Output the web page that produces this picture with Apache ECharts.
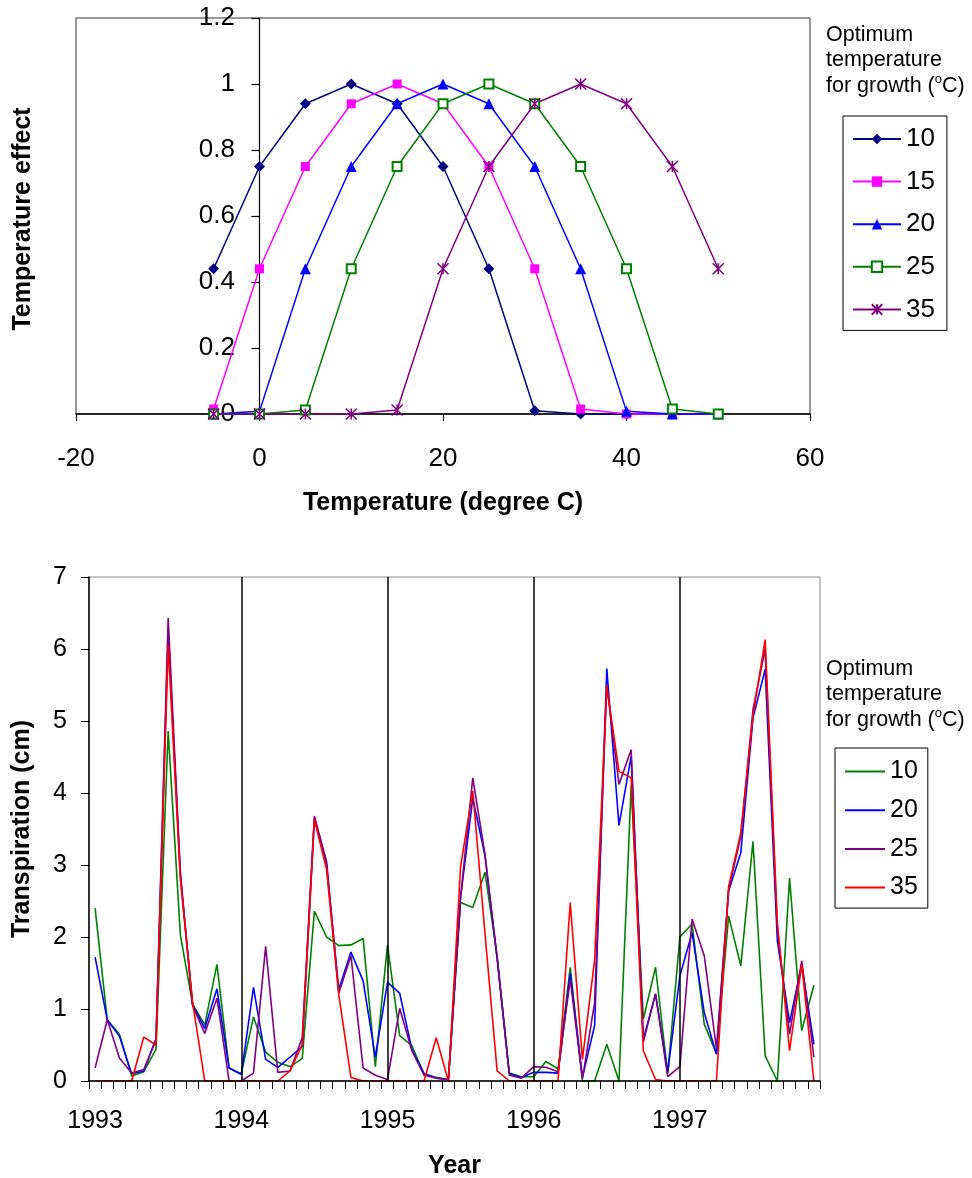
<!DOCTYPE html>
<html><head><meta charset="utf-8">
<script src="https://cdn.jsdelivr.net/npm/echarts@6/dist/echarts.min.js"></script>
<style>
html,body{margin:0;padding:0;background:#fff;}
#c1{position:absolute;left:0;top:0;width:972px;height:540px;}
#c2{position:absolute;left:0;top:540px;width:972px;height:638px;}
</style>
</head><body>
<div id="c1"></div><div id="c2"></div>
<script>
// ---------- Top chart data ----------
const tempX = [-5, 0, 5, 10, 15, 20, 25, 30, 35, 40, 45, 50];
const eff10 = [0.44, 0.75, 0.94, 1, 0.94, 0.75, 0.44, 0.01, 0, 0, 0, 0];
const eff15 = [0.015, 0.44, 0.75, 0.94, 1, 0.94, 0.75, 0.44, 0.015, 0, 0, 0];
const eff20 = [0, 0.008, 0.44, 0.75, 0.94, 1, 0.94, 0.75, 0.44, 0.008, 0, 0];
const eff25 = [0, 0, 0.012, 0.44, 0.75, 0.94, 1, 0.94, 0.75, 0.44, 0.015, 0];
const eff35 = [0, 0, 0, 0, 0.012, 0.44, 0.75, 0.94, 1, 0.94, 0.75, 0.44];
const topNames = ['10', '15', '20', '25', '35'];

// ---------- Bottom chart data ----------
const yearLabels = ['1993', '1994', '1995', '1996', '1997'];
const monthNums = [1,2,3,4,5,6,7,8,9,10,11,12];
const tr10 = [
  2.4, 0.85, 0.65, 0.07, 0.13, 0.44, 4.86, 2.03, 1.07, 0.78, 1.62, 0.18,
  0.1, 0.89, 0.4, 0.26, 0.2, 0.31, 2.36, 2.0, 1.88, 1.89, 1.98, 0.2,
  1.89, 0.63, 0.49, 0.1, 0.05, 0.02, 2.48, 2.41, 2.9, 1.74, 0.11, 0.06,
  0.06, 0.27, 0.17, 1.58, 0, 0, 0.51, 0, 4.1, 0.86, 1.58, 0.1,
  2.0, 2.18, 0.79, 0.38, 2.29, 1.6, 3.33, 0.35, 0, 2.82, 0.7, 1.33
];
const tr20 = [
  1.72, 0.85, 0.62, 0.1, 0.14, 0.59, 6.25, 2.85, 1.06, 0.73, 1.28, 0.18,
  0.09, 1.3, 0.3, 0.19, 0.33, 0.48, 3.65, 3.0, 1.27, 1.79, 1.39, 0.33,
  1.37, 1.22, 0.44, 0.1, 0.04, 0.02, 2.55, 3.93, 3.13, 1.7, 0.1, 0.05,
  0.12, 0.12, 0.11, 1.5, 0.05, 0.77, 5.73, 3.55, 4.51, 0.58, 1.21, 0.12,
  1.46, 2.06, 0.95, 0.37, 2.64, 3.17, 5.04, 5.72, 1.95, 0.81, 1.62, 0.51
];
const tr25 = [
  0.18, 0.85, 0.32, 0.11, 0.16, 0.57, 6.43, 2.9, 1.05, 0.66, 1.15, 0,
  0, 0.11, 1.87, 0.12, 0.14, 0.6, 3.68, 3.05, 1.22, 1.74, 0.18, 0.08,
  0.02, 1.01, 0.42, 0.08, 0.04, 0.02, 2.55, 4.21, 3.15, 1.71, 0.08, 0.04,
  0.2, 0.19, 0.13, 1.41, 0.03, 1.09, 5.5, 4.12, 4.6, 0.54, 1.21, 0.06,
  0.2, 2.25, 1.74, 0.45, 2.66, 3.4, 5.16, 6.0, 2.1, 0.65, 1.67, 0.33
];
const tr35 = [
  0, 0, 0, 0, 0.61, 0.5, 6.05, 2.8, 1.1, 0, 0, 0,
  0, 0, 0, 0, 0.14, 0.5, 3.63, 2.94, 1.2, 0.05, 0, 0,
  0, 0, 0, 0, 0.6, 0, 2.98, 4.03, 2.05, 0.14, 0, 0,
  0, 0, 0, 2.48, 0.3, 1.68, 5.48, 4.3, 4.21, 0.42, 0.02, 0,
  0, 0, 0, 0, 2.7, 3.45, 5.07, 6.13, 2.2, 0.42, 1.62, 0
];
const bottomNames = ['10', '20', '25', '35'];

const FONT = '"Liberation Sans", Arial, Helvetica, sans-serif';
const BLACK = '#000';

// ---------- Top chart ----------
const starPath = 'path://M0,0L10,10M10,0L0,10M5,0L5,10';
const topSpecs = [
  { name: topNames[0], vals: eff10, color: '#000080', symbol: 'diamond', size: 11 },
  { name: topNames[1], vals: eff15, color: '#FF00FF', symbol: 'rect', size: 9 },
  { name: topNames[2], vals: eff20, color: '#0000FF', symbol: 'triangle', size: 11 },
  { name: topNames[3], vals: eff25, color: '#008000', symbol: 'emptyRect', size: 9 },
  { name: topNames[4], vals: eff35, color: '#800080', symbol: starPath, size: 11 }
];

const titleStyle = (fs) => ({
  fontSize: fs, fontWeight: 'normal', color: BLACK, fontFamily: FONT, lineHeight: 25.7,
  rich: { s: { fontSize: 13, lineHeight: 14, verticalAlign: 'top', color: BLACK, fontFamily: FONT } }
});

const c1 = echarts.init(document.getElementById('c1'), null, { renderer: 'canvas' });
c1.setOption({
  animation: false,
  textStyle: { fontFamily: FONT },
  title: {
    text: 'Optimum\ntemperature\nfor growth ({s|o}C)',
    left: 826, top: 22, padding: 0,
    textStyle: titleStyle(21.5)
  },
  graphic: [{
    type: 'text', x: 23, y: 219, rotation: Math.PI / 2, silent: true,
    style: {
      text: 'Temperature effect', fill: BLACK,
      font: 'bold 25px "Liberation Sans", Arial, sans-serif',
      align: 'center', verticalAlign: 'middle'
    }
  }],
  legend: {
    orient: 'vertical', left: 843, top: 116,
    data: topNames,
    itemWidth: 48, itemHeight: 13, itemGap: 16.6,
    padding: [10, 12, 8, 9],
    borderColor: BLACK, borderWidth: 1,
    selectedMode: false,
    textStyle: { fontSize: 26, color: BLACK, fontFamily: FONT }
  },
  grid: { left: 76, right: 162, top: 18, bottom: 126, show: true, borderColor: '#333', borderWidth: 1,
          containLabel: false, outerBoundsMode: 'none' },
  xAxis: {
    type: 'value', min: -20, max: 60, interval: 20,
    name: 'Temperature (degree C)', nameLocation: 'middle', nameGap: 77,
    nameTextStyle: { fontSize: 25, fontWeight: 'bold', color: BLACK, fontFamily: FONT },
    axisLine: { show: true, lineStyle: { color: BLACK, width: 1.5 } },
    axisTick: { show: true, length: 7, lineStyle: { color: BLACK, width: 1.2 } },
    axisLabel: { fontSize: 26, color: BLACK, margin: 32, fontFamily: FONT },
    splitLine: { show: false }
  },
  yAxis: {
    type: 'value', min: 0, max: 1.2, interval: 0.2,
    axisLine: { show: true, onZero: true, lineStyle: { color: BLACK, width: 1.2 } },
    axisTick: { show: true, length: 8, lineStyle: { color: BLACK, width: 1.2 } },
    axisLabel: { fontSize: 26, color: BLACK, margin: -159, fontFamily: FONT },
    splitLine: { show: false }
  },
  series: topSpecs.map(s => ({
    type: 'line', name: s.name,
    data: tempX.map((x, i) => [x, s.vals[i]]),
    symbol: s.symbol, symbolSize: s.size, showSymbol: true, clip: false,
    color: s.color,
    lineStyle: { color: s.color, width: 1.5 },
    itemStyle: s.symbol === starPath
      ? { color: s.color, borderColor: s.color, borderWidth: 1.6 }
      : { color: s.color }
  }))
});

// ---------- Bottom chart ----------
const categories = yearLabels.flatMap(y => monthNums.map(m => y + '-' + m));
const botSpecs = [
  { name: bottomNames[0], vals: tr10, color: '#008000' },
  { name: bottomNames[1], vals: tr20, color: '#0000FF' },
  { name: bottomNames[2], vals: tr25, color: '#800080' },
  { name: bottomNames[3], vals: tr35, color: '#FF0000' }
];

const c2 = echarts.init(document.getElementById('c2'), null, { renderer: 'canvas' });
c2.setOption({
  animation: false,
  textStyle: { fontFamily: FONT },
  title: {
    text: 'Optimum\ntemperature\nfor growth ({s|o}C)',
    left: 826, top: 116, padding: 0,
    textStyle: titleStyle(21.5)
  },
  legend: {
    orient: 'vertical', left: 835, top: 208,
    data: bottomNames,
    icon: 'rect', itemWidth: 40, itemHeight: 2, itemGap: 13.7,
    padding: [11, 10, 8, 10],
    borderColor: BLACK, borderWidth: 1,
    selectedMode: false,
    textStyle: { fontSize: 25, color: BLACK, fontFamily: FONT }
  },
  grid: { left: 89, right: 152, top: 37, bottom: 97, show: true, borderColor: '#888', borderWidth: 1,
          containLabel: false, outerBoundsMode: 'none' },
  xAxis: {
    type: 'category', data: categories, boundaryGap: true, z: 10,
    name: 'Year', nameLocation: 'middle', nameGap: 73,
    nameTextStyle: { fontSize: 25, fontWeight: 'bold', color: BLACK, fontFamily: FONT },
    axisLine: { show: true, lineStyle: { color: BLACK, width: 1.5 } },
    axisTick: { show: true, interval: 0, length: 8, lineStyle: { color: BLACK, width: 1 } },
    axisLabel: {
      interval: (idx) => idx % 12 === 0,
      formatter: (v) => v.split('-')[0],
      fontSize: 25, color: BLACK, margin: 28, fontFamily: FONT
    },
    splitLine: { show: false }
  },
  yAxis: {
    type: 'value', min: 0, max: 7, interval: 1, z: 10,
    name: 'Transpiration (cm)', nameLocation: 'middle', nameGap: 54, nameRotate: 90,
    nameTextStyle: { fontSize: 25, fontWeight: 'bold', color: BLACK, fontFamily: FONT },
    axisLine: { show: true, lineStyle: { color: BLACK, width: 1.5 } },
    axisTick: { show: true, length: 8, lineStyle: { color: BLACK, width: 1 } },
    axisLabel: { fontSize: 25, color: BLACK, margin: 22, fontFamily: FONT },
    splitLine: { show: false }
  },
  series: botSpecs.map((s, k) => {
    const o = {
      type: 'line', name: s.name, data: s.vals,
      symbol: 'none', showSymbol: false,
      color: s.color,
      lineStyle: { color: s.color, width: 1.6 }
    };
    if (k === 0) {
      o.markLine = {
        silent: true, symbol: ['none', 'none'], label: { show: false },
        lineStyle: { color: BLACK, width: 1.5, type: 'solid' },
        data: yearLabels.slice(1).map(y => ({ xAxis: y + '-1' }))
      };
    }
    return o;
  })
});
</script>
</body></html>
